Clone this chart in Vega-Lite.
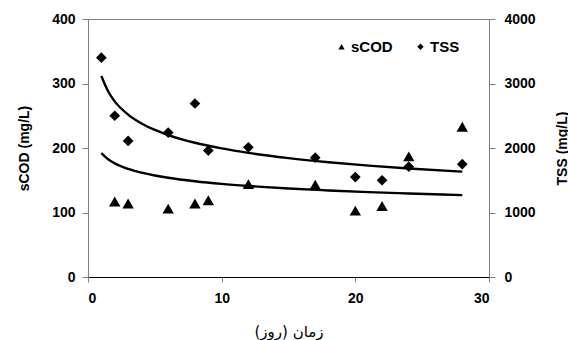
{
  "$schema": "https://vega.github.io/schema/vega-lite/v6.json",
  "width": 401,
  "height": 258,
  "autosize": {"type": "none"},
  "padding": {"left": 88, "top": 19, "right": 79, "bottom": 63},
  "background": "white",
  "config": {
    "font": "Liberation Sans",
    "view": {"stroke": "#808080", "strokeWidth": 1},
    "axis": {
      "grid": false,
      "labelFont": "Liberation Sans",
      "labelFontSize": 14,
      "labelFontWeight": "bold",
      "labelColor": "black",
      "titleFont": "Liberation Sans",
      "titleFontSize": 14,
      "titleFontWeight": "bold",
      "titleColor": "black",
      "tickSize": 6,
      "tickColor": "#808080",
      "domainColor": "#808080"
    }
  },
  "datasets": {
    "points": [
      {"day": 2, "series": "sCOD", "value": 117},
      {"day": 3, "series": "sCOD", "value": 114},
      {"day": 6, "series": "sCOD", "value": 106},
      {"day": 8, "series": "sCOD", "value": 114},
      {"day": 9, "series": "sCOD", "value": 119},
      {"day": 12, "series": "sCOD", "value": 144},
      {"day": 17, "series": "sCOD", "value": 143},
      {"day": 20, "series": "sCOD", "value": 103},
      {"day": 22, "series": "sCOD", "value": 110},
      {"day": 24, "series": "sCOD", "value": 187},
      {"day": 28, "series": "sCOD", "value": 233},
      {"day": 1, "series": "TSS", "value": 3400},
      {"day": 2, "series": "TSS", "value": 2500},
      {"day": 3, "series": "TSS", "value": 2110},
      {"day": 6, "series": "TSS", "value": 2240},
      {"day": 8, "series": "TSS", "value": 2690},
      {"day": 9, "series": "TSS", "value": 1960},
      {"day": 12, "series": "TSS", "value": 2010},
      {"day": 17, "series": "TSS", "value": 1850},
      {"day": 20, "series": "TSS", "value": 1550},
      {"day": 22, "series": "TSS", "value": 1500},
      {"day": 24, "series": "TSS", "value": 1710},
      {"day": 28, "series": "TSS", "value": 1750}
    ],
    "trend": [
      {"day": 1, "series": "sCOD", "value": 192},
      {"day": 1.5, "series": "sCOD", "value": 182.6},
      {"day": 2, "series": "sCOD", "value": 176.2},
      {"day": 3, "series": "sCOD", "value": 167.6},
      {"day": 4, "series": "sCOD", "value": 161.7},
      {"day": 5, "series": "sCOD", "value": 157.3},
      {"day": 6, "series": "sCOD", "value": 153.8},
      {"day": 8, "series": "sCOD", "value": 148.4},
      {"day": 10, "series": "sCOD", "value": 144.3},
      {"day": 12, "series": "sCOD", "value": 141.1},
      {"day": 15, "series": "sCOD", "value": 137.2},
      {"day": 18, "series": "sCOD", "value": 134.2},
      {"day": 21, "series": "sCOD", "value": 131.6},
      {"day": 24, "series": "sCOD", "value": 129.5},
      {"day": 28, "series": "sCOD", "value": 127.0},
      {"day": 1, "series": "TSS", "value": 3116},
      {"day": 1.5, "series": "TSS", "value": 2880},
      {"day": 2, "series": "TSS", "value": 2723},
      {"day": 3, "series": "TSS", "value": 2518},
      {"day": 4, "series": "TSS", "value": 2381},
      {"day": 5, "series": "TSS", "value": 2280},
      {"day": 6, "series": "TSS", "value": 2201},
      {"day": 8, "series": "TSS", "value": 2081},
      {"day": 10, "series": "TSS", "value": 1994},
      {"day": 12, "series": "TSS", "value": 1924},
      {"day": 15, "series": "TSS", "value": 1843},
      {"day": 18, "series": "TSS", "value": 1779},
      {"day": 21, "series": "TSS", "value": 1726},
      {"day": 24, "series": "TSS", "value": 1682},
      {"day": 28, "series": "TSS", "value": 1633}
    ]
  },
  "layer": [
    {
      "layer": [
        {
          "data": {"name": "trend"},
          "transform": [{"filter": "datum.series === 'sCOD'"}],
          "mark": {"type": "line", "color": "black", "strokeWidth": 2.4, "interpolate": "monotone"},
          "encoding": {
            "x": {"field": "day", "type": "quantitative", "scale": {"domain": [0, 30]},
              "axis": {"values": [0, 10, 20, 30], "title": "زمان (روز)", "titleFontWeight": "normal", "titleFont": "DejaVu Sans", "titleFontSize": 15, "labelPadding": 9, "titlePadding": 19, "domainColor": "black", "tickSize": 5}},
            "y": {"field": "value", "type": "quantitative", "scale": {"domain": [0, 400]}}
          }
        },
        {
          "data": {"name": "points"},
          "transform": [{"filter": "datum.series === 'sCOD'"}],
          "mark": {"type": "point", "filled": true, "color": "black", "opacity": 1, "size": 130},
          "encoding": {
            "x": {"field": "day", "type": "quantitative", "scale": {"domain": [0, 30]}},
            "y": {"field": "value", "type": "quantitative", "scale": {"domain": [0, 400]},
              "axis": {"orient": "left", "values": [0, 100, 200, 300, 400], "title": "sCOD (mg/L)", "labelPadding": 7, "titlePadding": 20}},
            "shape": {"field": "series", "type": "nominal",
              "scale": {"domain": ["sCOD", "TSS"], "range": ["triangle-up", "diamond"]},
              "legend": {"title": null, "orient": "none", "direction": "horizontal", "legendX": 246, "legendY": 20,
                "symbolSize": 40, "symbolFillColor": "black", "symbolStrokeColor": "black", "symbolStrokeWidth": 0,
                "labelFontSize": 15, "labelFontWeight": "bold", "labelFont": "Liberation Sans", "labelColor": "black",
                "columnPadding": 20, "labelOffset": 2}}
          }
        }
      ]
    },
    {
      "layer": [
        {
          "data": {"name": "trend"},
          "transform": [{"filter": "datum.series === 'TSS'"}],
          "mark": {"type": "line", "color": "black", "strokeWidth": 2.4, "interpolate": "monotone"},
          "encoding": {
            "x": {"field": "day", "type": "quantitative", "scale": {"domain": [0, 30]}},
            "y": {"field": "value", "type": "quantitative", "scale": {"domain": [0, 4000]}}
          }
        },
        {
          "data": {"name": "points"},
          "transform": [{"filter": "datum.series === 'TSS'"}],
          "mark": {"type": "point", "filled": true, "color": "black", "opacity": 1, "size": 115},
          "encoding": {
            "x": {"field": "day", "type": "quantitative", "scale": {"domain": [0, 30]}},
            "y": {"field": "value", "type": "quantitative", "scale": {"domain": [0, 4000]},
              "axis": {"orient": "right", "values": [0, 1000, 2000, 3000, 4000], "format": "d", "title": "TSS (mg/L)", "labelPadding": 9,
                "titleAngle": 270, "titleBaseline": "middle", "titleAlign": "center", "titleX": 73, "titleY": 129, "domainColor": "#808080"}},
            "shape": {"field": "series", "type": "nominal",
              "scale": {"domain": ["sCOD", "TSS"], "range": ["triangle-up", "diamond"]}}
          }
        }
      ],
      "resolve": {"scale": {"y": "shared"}}
    }
  ],
  "resolve": {"scale": {"y": "independent"}}
}
